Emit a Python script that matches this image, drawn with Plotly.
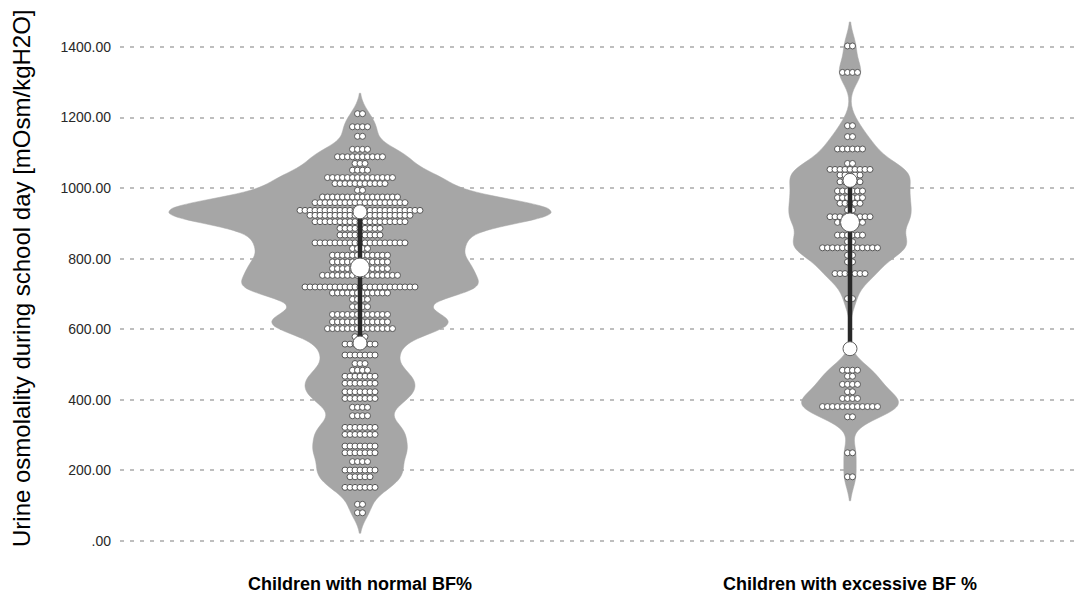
import numpy as np
import plotly.graph_objects as go

# ---- data ----
group_labels = ["Children with normal BF%", "Children with excessive BF %"]

# dot-plot rows: value of row and number of dots in that row
normal_bins = [1211, 1174, 1147, 1110, 1089, 1070, 1051, 1030, 1013, 994, 975, 959, 937, 923, 905, 886, 867,
               845, 829, 810, 791, 772, 753, 720, 703, 685, 664, 642, 621, 602, 579, 558, 527, 503, 484,
               467, 447, 423, 404, 379, 355, 322, 302, 269, 250, 225, 201, 182, 152, 104, 80]
normal_counts = [2, 4, 2, 4, 10, 3, 4, 14, 11, 2, 16, 19, 25, 21, 19, 9, 9,
                 19, 4, 12, 12, 12, 16, 23, 12, 4, 4, 12, 12, 14, 3, 7, 7, 3, 4,
                 7, 7, 7, 7, 4, 4, 7, 7, 7, 7, 4, 7, 5, 7, 2, 2]

excess_bins = [1403, 1328, 1177, 1146, 1111, 1070, 1053, 1037, 1018, 992, 973, 957, 938, 919, 903, 867,
               848, 831, 810, 791, 758, 687, 484, 467, 444, 423, 404, 381, 352, 250, 182]
excess_counts = [2, 4, 2, 2, 6, 2, 9, 5, 5, 6, 6, 5, 2, 9, 6, 6,
                 2, 12, 2, 2, 7, 2, 4, 2, 4, 2, 4, 12, 2, 2, 2]

# quartile summary (Q1, median, Q3)
normal_quartiles = [561, 775, 933]
excess_quartiles = [545, 903, 1022]

y_tickvals = [0, 200, 400, 600, 800, 1000, 1200, 1400]
y_ticktext = [".00", "200.00", "400.00", "600.00", "800.00", "1000.00", "1200.00", "1400.00"]

# ---- styling ----
VIOLIN_FILL = "rgb(166,166,166)"
DOT_STEP = 0.0102   # horizontal spacing of dots (x units)
FONT = "Arial, Liberation Sans, sans-serif"

fig = go.Figure()

groups = [
    (0, normal_bins, normal_counts, normal_quartiles, 0.78, 29),
    (1, excess_bins, excess_counts, excess_quartiles, 0.25, 34),
]

for pos, bins, counts, quart, vwidth, bw in groups:
    raw = np.repeat(np.array(bins, dtype=float), counts)
    fig.add_trace(go.Violin(
        x=[pos] * len(raw), y=raw, points=False, width=vwidth, scalemode="width",
        bandwidth=bw, spanmode="soft", fillcolor=VIOLIN_FILL,
        line=dict(color=VIOLIN_FILL, width=0.5), opacity=1,
        box=dict(visible=False), meanline=dict(visible=False),
        showlegend=False, hoverinfo="skip",
    ))
    dx, dy = [], []
    for b, c in zip(bins, counts):
        for i in range(c):
            dx.append(pos + (i - (c - 1) / 2) * DOT_STEP)
            dy.append(b)
    fig.add_trace(go.Scatter(
        x=dx, y=dy, mode="markers", showlegend=False, hoverinfo="skip",
        marker=dict(size=6, color="white", opacity=1, line=dict(color="rgb(85,85,85)", width=1)),
    ))
    fig.add_trace(go.Scatter(
        x=[pos, pos], y=[quart[0], quart[2]], mode="lines", showlegend=False, hoverinfo="skip",
        line=dict(color="rgb(40,40,40)", width=4.5),
    ))
    fig.add_trace(go.Scatter(
        x=[pos, pos, pos], y=quart, mode="markers", showlegend=False, hoverinfo="skip",
        marker=dict(size=[14, 19, 14], color="white", opacity=1,
                    line=dict(color="rgb(95,95,95)", width=1)),
    ))

# page body has an 8px margin: figure sized so it ends at the window edge
fig.update_layout(
    width=1075, height=590,
    margin=dict(l=112, r=0, t=2, b=27, autoexpand=False),
    paper_bgcolor="white", plot_bgcolor="white",
    violinmode="overlay",
    font=dict(family=FONT, color="black"),
    xaxis=dict(range=[-0.4898, 1.4755], tickvals=[0, 1], ticktext=group_labels,
               showgrid=False, zeroline=False, showline=False, ticks="", automargin=False,
               tickfont=dict(family=FONT, size=18, color="black", weight="bold")),
    yaxis=dict(range=[-85.0, 1504.9], tickvals=y_tickvals, ticktext=y_ticktext,
               showgrid=True, gridcolor="rgb(190,190,190)", gridwidth=1.5, griddash="4px,6px",
               zeroline=False, showline=False, ticks="", ticklabelstandoff=8, automargin=False,
               tickfont=dict(family=FONT, size=14, color="rgb(40,40,40)")),
    annotations=[dict(
        text="Urine osmolality during school day [mOsm/kgH2O]", textangle=-90,
        xref="paper", yref="paper", x=(14 - 112) / 963, y=(563 - 270) / 561,
        xanchor="center", yanchor="middle", showarrow=False,
        font=dict(family=FONT, size=24, color="black"),
    )],
)

fig.write_html("out.html")
